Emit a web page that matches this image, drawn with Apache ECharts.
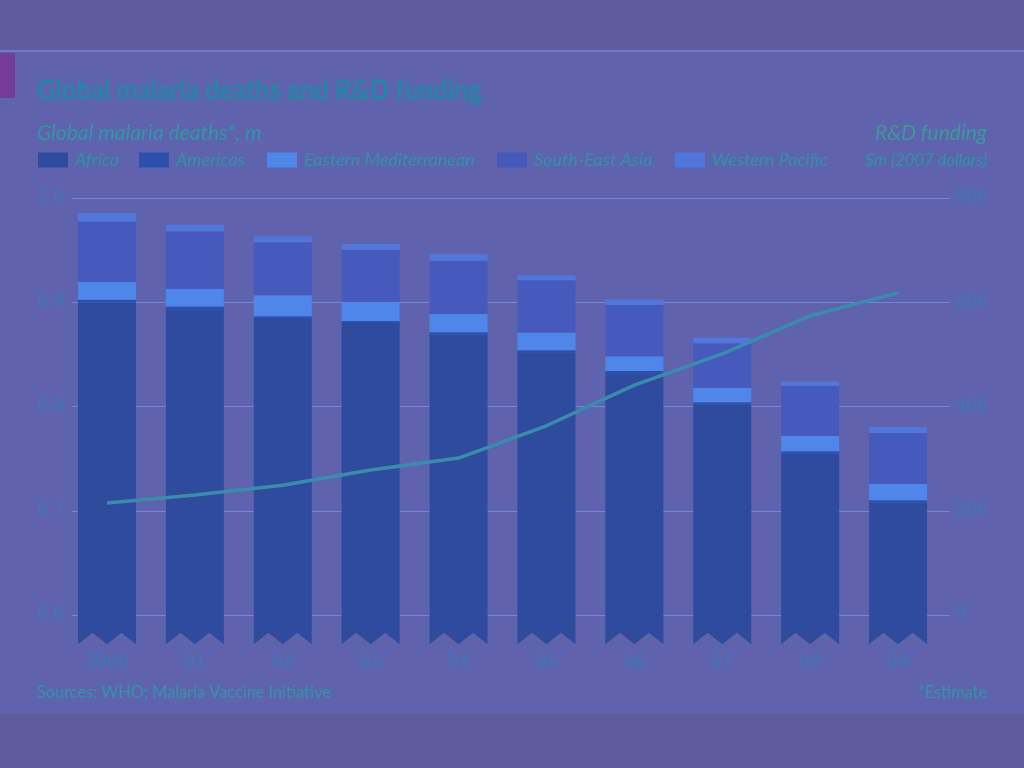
<!DOCTYPE html>
<html><head><meta charset="utf-8">
<script src="https://cdn.jsdelivr.net/npm/echarts@6/dist/echarts.min.js"></script>
<style>html,body{margin:0;padding:0;background:#5f5b9d;}#c{width:1024px;height:768px;}</style>
</head><body><div id="c"></div>
<script>
// ---- data ----
const years = ['2000','01','02','03','04','05','06','07','08','09'];
const africa = [0.900,0.893,0.884,0.880,0.869,0.852,0.831,0.802,0.755,0.708];
const americas = [0.0025,0.003,0.0026,0.002,0.0023,0.002,0.003,0.002,0.002,0.002];
const easternMed = [0.017,0.017,0.020,0.0185,0.0175,0.017,0.0143,0.014,0.015,0.016];
const seAsia = [0.058,0.055,0.051,0.0496,0.051,0.050,0.049,0.0426,0.048,0.0486];
const westernPacific = [0.008,0.0064,0.0057,0.0058,0.0064,0.005,0.0054,0.0054,0.004,0.0057];
const rdFunding = [215,230,249,278,301,363,441,501,574,618];
const leftTicks = [0.6, 1.0, 0.1];   // min, max, interval (m deaths)
const rightTicks = [0, 800, 200];    // min, max, interval ($m)
const breakBase = 0.572;             // value where the broken bars end

const regions = [
  {name:'Africa', vals:africa, color:'#2f4b9d'},
  {name:'Americas', vals:americas, color:'#2c50b0'},
  {name:'Eastern Mediterranean', vals:easternMed, color:'#4f86ea'},
  {name:'South-East Asia', vals:seAsia, color:'#4659bd'},
  {name:'Western Pacific', vals:westernPacific, color:'#5277dc'}
];

const chart = echarts.init(document.getElementById('c'), null, {renderer:'canvas'});
const cum = years.map(()=>0);
const barSeries = regions.map((r, ri) => {
  const data = r.vals.map((v, i) => {
    const base = ri === 0 ? breakBase : cum[i];
    const top = (ri === 0 ? 0 : cum[i]) + v;
    cum[i] = top;
    return [i, base, top];
  });
  return {
    type:'custom', name:r.name, xAxisIndex:1, yAxisIndex:2, clip:false, z:2,
    itemStyle:{color:r.color},
    encode:{x:0, y:[1,2]},
    data,
    renderItem(params, api){
      const i = api.value(0);
      const pTop = api.coord([i, api.value(2)]);
      const pBot = api.coord([i, api.value(1)]);
      const w = api.size([1,0])[0]*0.66;
      const xl = pTop[0]-w/2, xr = pTop[0]+w/2;
      if (ri === 0) {
        const d = 11.5;
        return {type:'polygon', shape:{points:[
          [xl,pTop[1]],[xr,pTop[1]],[xr,pBot[1]],[xr-w/4,pBot[1]-d],[pTop[0],pBot[1]],[xl+w/4,pBot[1]-d],[xl,pBot[1]]
        ]}, style:{fill:r.color}};
      }
      return {type:'rect', shape:{x:xl, y:pTop[1], width:w, height:pBot[1]-pTop[1]}, style:{fill:r.color}};
    }
  };
});

const legendPos = [38, 139, 267, 497, 675];
const legends = regions.map((r, k) => ({
  data:[r.name], left:legendPos[k], top:151, itemWidth:30, itemHeight:15, itemGap:0, padding:0,
  icon:'rect', selectedMode:false,
  textStyle:{color:'#2e92ac', fontSize:18, fontStyle:'italic', fontFamily:'Lato', padding:[0,0,0,2]}
}));

const tickFont = 'DejaVu Sans';
function txt(text, x, y, font, fill, align, sx){
  return {type:'text', x:x, y:y, scaleX:sx, z:10,
    style:{text:text, fill:fill, font:font, textAlign:align, textVerticalAlign:'middle', verticalAlign:'middle'}};
}
const option = {
  animation:false,
  backgroundColor:'#5f5b9d',
  graphic:[
    {type:'rect', shape:{x:0,y:52,width:1024,height:662}, style:{fill:'#5f63ae'}, z:-10},
    {type:'rect', shape:{x:0,y:50,width:1024,height:2}, style:{fill:'#6c78cc'}, z:-9},
    {type:'rect', shape:{x:0,y:53,width:15,height:45}, style:{fill:'#743c98'}, z:-8},
    txt('Global malaria deaths and R&D funding', 37, 91, 'bold 28px Lato', '#2386a8', 'left', 0.91),
    txt('Global malaria deaths*, m', 37, 133, 'italic 21px Lato', '#2e98a4', 'left', 1.0),
    txt('R&D funding', 987, 133, 'italic 21px Lato', '#3a9a98', 'right', 1.0),
    txt('$m (2007 dollars)', 987, 160, 'italic 18px Lato', '#2e92ac', 'right', 0.92),
    txt('Sources: WHO; Malaria Vaccine Initiative', 37, 693, '17px Lato', '#2f96a6', 'left', 0.96),
    txt('*Estimate', 987, 693, '17px Lato', '#2f96a6', 'right', 0.96)
  ],
  legend:legends,
  grid:[
    {left:72, right:74, top:198, bottom:153},
    {left:63, right:82, top:198, bottom:153}
  ],
  xAxis:[
    {type:'category', gridIndex:0, data:years, show:false},
    {type:'category', gridIndex:1, data:years, axisLine:{show:false}, axisTick:{show:false},
     axisLabel:{color:'#3b78b8', fontSize:17, fontFamily:tickFont, margin:39}}
  ],
  yAxis:[
    {type:'value', gridIndex:0, min:leftTicks[0], max:leftTicks[1], interval:leftTicks[2], position:'left',
     axisLabel:{color:'#3b78b8', fontSize:17, fontFamily:tickFont, margin:8, formatter:v=>v.toFixed(1)},
     splitLine:{lineStyle:{color:'#7286da', width:1}}, axisLine:{show:false}, axisTick:{show:false}},
    {type:'value', gridIndex:0, min:rightTicks[0], max:rightTicks[1], interval:rightTicks[2], position:'right',
     axisLabel:{color:'#3b78b8', fontSize:17, fontFamily:tickFont, margin:5},
     splitLine:{show:false}, axisLine:{show:false}, axisTick:{show:false}},
    {type:'value', gridIndex:1, min:leftTicks[0], max:leftTicks[1], show:false, splitLine:{show:false}},
    {type:'value', gridIndex:1, min:rightTicks[0], max:rightTicks[1], show:false, splitLine:{show:false}}
  ],
  series:[...barSeries, {
    type:'line', name:'R&D funding', xAxisIndex:1, yAxisIndex:3, data:rdFunding, z:5,
    symbol:'none', smooth:false, lineStyle:{color:'#3a8cae', width:3.5}
  }]
};
chart.setOption(option);
</script></body></html>
